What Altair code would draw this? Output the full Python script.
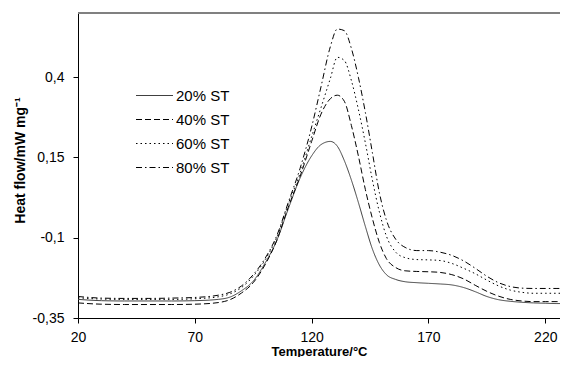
import altair as alt
import pandas as pd

temperature = [20, 30, 40, 50, 60, 70, 80, 85, 90, 95, 100, 105, 110, 115, 120, 124,
               128, 131, 134, 137, 140, 143, 146, 149, 152, 156, 160, 165, 170, 175,
               180, 185, 190, 195, 200, 205, 210, 215, 220, 225, 230]

st20 = [-0.292, -0.296, -0.297, -0.297, -0.297, -0.296, -0.292, -0.285, -0.265, -0.235,
        -0.180, -0.110, -0.010, 0.085, 0.155, 0.190, 0.200, 0.185, 0.140, 0.080,
        0.010, -0.065, -0.135, -0.185, -0.215, -0.230, -0.237, -0.240, -0.242, -0.244,
        -0.247, -0.255, -0.268, -0.283, -0.293, -0.298, -0.301, -0.303, -0.304, -0.305, -0.305]

st40 = [-0.303, -0.307, -0.308, -0.308, -0.308, -0.307, -0.302, -0.293, -0.272, -0.240,
        -0.185, -0.110, -0.005, 0.090, 0.200, 0.285, 0.333, 0.344, 0.325, 0.250,
        0.155, 0.050, -0.040, -0.115, -0.165, -0.193, -0.203, -0.205, -0.206, -0.208,
        -0.215, -0.228, -0.248, -0.267, -0.282, -0.292, -0.297, -0.299, -0.299, -0.299, -0.299]

st60 = [-0.287, -0.291, -0.292, -0.292, -0.292, -0.290, -0.284, -0.275, -0.255, -0.220,
        -0.170, -0.100, 0.005, 0.100, 0.215, 0.305, 0.396, 0.462, 0.452, 0.390,
        0.300, 0.195, 0.080, -0.020, -0.095, -0.145, -0.162, -0.168, -0.169, -0.171,
        -0.180, -0.195, -0.212, -0.232, -0.250, -0.263, -0.270, -0.273, -0.273, -0.273, -0.273]

st80 = [-0.283, -0.288, -0.289, -0.289, -0.288, -0.286, -0.279, -0.270, -0.250, -0.215,
        -0.165, -0.095, 0.010, 0.115, 0.245, 0.370, 0.495, 0.550, 0.545, 0.490,
        0.400, 0.290, 0.165, 0.040, -0.045, -0.105, -0.130, -0.140, -0.140, -0.145,
        -0.155, -0.172, -0.195, -0.220, -0.240, -0.252, -0.257, -0.258, -0.258, -0.258, -0.258]

series_names = ["20% ST", "40% ST", "60% ST", "80% ST"]
x_ticks = [20, 70, 120, 170, 220]
y_ticks = [-0.35, -0.1, 0.15, 0.4]

rows = []
for name, vals in zip(series_names, [st20, st40, st60, st80]):
    for t, v in zip(temperature, vals):
        rows.append({"T": t, "HF": v, "series": name})
df = pd.DataFrame(rows)

FONT = "Liberation Sans"
PLOT_W = 482
PLOT_H = 305

legend_kw = dict(
    orient="none", legendX=69, legendY=75, title=None, padding=0,
    symbolType="M-3,0H3", symbolSize=152, symbolStrokeWidth=1.2,
    labelFontSize=15, labelFont=FONT, labelColor="#000", labelOffset=14,
    rowPadding=8,
)

lines = alt.Chart(df).mark_line(interpolate="monotone", strokeWidth=1, clip=True).encode(
    x=alt.X("T:Q", scale=alt.Scale(domain=[20, 226.3], nice=False, zero=False),
            axis=alt.Axis(values=x_ticks, title="Temperature/°C", labelPadding=7,
                          labelFlush=False, titlePadding=1, titleFontSize=13)),
    y=alt.Y("HF:Q", scale=alt.Scale(domain=[-0.35, 0.6], nice=False, zero=False),
            axis=alt.Axis(values=y_ticks, title="Heat flow/mW mg⁻¹", labelPadding=9,
                          titlePadding=5, titleY=147, labelFlush=False,
                          labelExpr="replace(toString(datum.value), '.', ',')")),
    strokeDash=alt.StrokeDash("series:N",
                              scale=alt.Scale(domain=series_names,
                                              range=[[1, 0], [6, 3], [1.5, 3], [6, 3, 1.5, 3]]),
                              legend=alt.Legend(**legend_kw)),
    color=alt.Color("series:N",
                    scale=alt.Scale(domain=series_names,
                                    range=["#404040", "#000000", "#000000", "#000000"]),
                    legend=alt.Legend(**legend_kw)),
)

frame_top = alt.Chart(df).mark_rule(color="#808080", strokeWidth=1.5).encode(
    x=alt.value(0), x2=alt.value(PLOT_W), y=alt.value(0)
)

chart = alt.layer(lines, frame_top).properties(
    width=PLOT_W, height=PLOT_H,
    autosize=alt.AutoSizeParams(type="none"),
    padding={"left": 70, "top": 5, "right": 0, "bottom": 39},
).configure_view(stroke=None).configure_axis(
    grid=False, labelFont=FONT, labelFontSize=14, labelColor="#000",
    tickSize=5, tickColor="#000", domainColor="#000", domainWidth=1,
    titleFont=FONT, titleFontSize=14, titleFontWeight="bold", titleColor="#000",
)

chart.save("out.html", embed_options={"renderer": "svg", "actions": False})
